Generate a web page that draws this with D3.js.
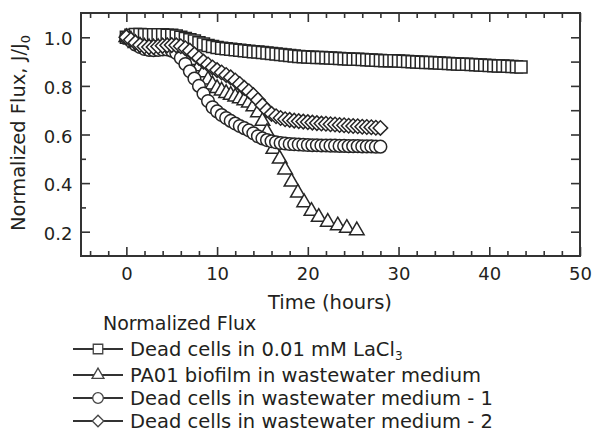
<!DOCTYPE html>
<html>
<head>
<meta charset="utf-8">
<script src="https://cdn.jsdelivr.net/npm/d3@7"></script>
<style>
  body { margin: 0; background: #fff; }
  svg { display: block; font-family: "DejaVu Sans", sans-serif; }
</style>
</head>
<body>
<svg id="chart" width="592" height="440"></svg>
<script>
// sample times (hours), every half hour
var halfHours = [0, 0.5, 1, 1.5, 2, 2.5, 3, 3.5, 4, 4.5, 5, 5.5, 6, 6.5, 7, 7.5, 8, 8.5, 9, 9.5,
  10, 10.5, 11, 11.5, 12, 12.5, 13, 13.5, 14, 14.5, 15, 15.5, 16, 16.5, 17, 17.5, 18, 18.5, 19, 19.5,
  20, 20.5, 21, 21.5, 22, 22.5, 23, 23.5, 24, 24.5, 25, 25.5, 26, 26.5, 27, 27.5, 28, 28.5, 29, 29.5,
  30, 30.5, 31, 31.5, 32, 32.5, 33, 33.5, 34, 34.5, 35, 35.5, 36, 36.5, 37, 37.5, 38, 38.5, 39, 39.5,
  40, 40.5, 41, 41.5, 42, 42.5, 43, 43.5];

// Dead cells in 0.01 mM LaCl3
var laclFlux = [1.000, 1.008, 1.012, 1.012, 1.010, 1.010, 1.010, 1.010, 1.010, 1.008,
  1.008, 1.005, 1.000, 0.995, 0.990, 0.985, 0.978, 0.972, 0.966, 0.962,
  0.958, 0.955, 0.953, 0.951, 0.949, 0.947, 0.945, 0.943, 0.941, 0.939,
  0.937, 0.935, 0.933, 0.931, 0.929, 0.927, 0.925, 0.923, 0.921, 0.920,
  0.919, 0.918, 0.917, 0.917, 0.916, 0.915, 0.914, 0.913, 0.912, 0.911,
  0.910, 0.910, 0.909, 0.908, 0.907, 0.906, 0.905, 0.904, 0.903, 0.903,
  0.902, 0.901, 0.900, 0.899, 0.898, 0.897, 0.896, 0.896, 0.895, 0.894,
  0.893, 0.892, 0.891, 0.890, 0.889, 0.889, 0.888, 0.887, 0.886, 0.885,
  0.884, 0.883, 0.882, 0.882, 0.881, 0.880, 0.879, 0.878];

// PA01 biofilm in wastewater medium
var biofilmTime = [0, 0.5, 1, 1.5, 2, 2.5, 3, 3.5, 4, 4.5, 5, 5.5, 6, 6.5, 7, 7.5, 8, 8.5, 9, 9.5,
  10, 10.5, 11, 11.5, 12, 12.5, 13, 13.5, 14, 14.5, 15, 15.5,
  16.2, 16.9, 17.5, 18.2, 18.9, 19.6, 20.4, 21.2, 22.2, 23.3, 24.3, 25.4];
var biofilmFlux = [1.000, 0.990, 0.975, 0.965, 0.960, 0.958, 0.957, 0.958, 0.960, 0.960,
  0.958, 0.955, 0.950, 0.940, 0.925, 0.905, 0.880, 0.855, 0.825, 0.805,
  0.790, 0.780, 0.770, 0.762, 0.755, 0.748, 0.740, 0.730, 0.715, 0.690,
  0.655, 0.610,
  0.540, 0.500, 0.455, 0.405, 0.360, 0.320, 0.285, 0.260, 0.240, 0.225, 0.215, 0.205];

// Dead cells in wastewater medium - 1
var waste1Flux = [1.000, 0.985, 0.970, 0.960, 0.952, 0.948, 0.947, 0.948, 0.950, 0.950,
  0.945, 0.935, 0.915, 0.890, 0.860, 0.830, 0.800, 0.768, 0.738, 0.712,
  0.695, 0.680, 0.668, 0.656, 0.645, 0.635, 0.626, 0.617, 0.605, 0.593,
  0.584, 0.577, 0.572, 0.568, 0.565, 0.563, 0.561, 0.560, 0.559, 0.558,
  0.557, 0.556, 0.556, 0.555, 0.555, 0.554, 0.554, 0.553, 0.553, 0.552,
  0.552, 0.552, 0.551, 0.551, 0.551, 0.550, 0.550];

// Dead cells in wastewater medium - 2
var waste2Flux = [1.000, 0.990, 0.978, 0.968, 0.962, 0.960, 0.960, 0.962, 0.965, 0.967,
  0.968, 0.967, 0.963, 0.955, 0.945, 0.930, 0.915, 0.900, 0.888, 0.876,
  0.865, 0.855, 0.845, 0.835, 0.822, 0.808, 0.792, 0.778, 0.762, 0.742,
  0.720, 0.700, 0.685, 0.675, 0.668, 0.663, 0.660, 0.657, 0.655, 0.653,
  0.651, 0.649, 0.647, 0.645, 0.644, 0.642, 0.641, 0.639, 0.638, 0.636,
  0.635, 0.634, 0.632, 0.631, 0.630, 0.628, 0.627];

var legendLabels = ["Dead cells in 0.01 mM LaCl", "PA01 biofilm in wastewater medium",
  "Dead cells in wastewater medium - 1", "Dead cells in wastewater medium - 2"];
var legendSubs = ["3", "", "", ""];

var xMajor = [0, 10, 20, 30, 40, 50];
var xMinor = [-4, -2, 2, 4, 6, 8, 12, 14, 16, 18, 22, 24, 26, 28, 32, 34, 36, 38, 42, 44, 46, 48];
var yMajor = [0.2, 0.4, 0.6, 0.8, 1.0];
var yMinor = [0.3, 0.5, 0.7, 0.9];
var yRight = [0.2, 0.3, 0.4, 0.5, 0.6, 0.7, 0.8, 0.9, 1.0];

var ink = "#262626";
var textInk = "#231f20";
var svg = d3.select("#chart");

var x = d3.scaleLinear().domain([-5, 50]).range([81, 580]);
var y = d3.scaleLinear().domain([0.1, 1.1]).range([256, 13]);

// marker shapes
var shapes = [
  { type: d3.symbolSquare, size: 144, rot: 0, lsize: 90 },
  { type: d3.symbolTriangle, size: 92, rot: 0, lsize: 62 },
  { type: d3.symbolCircle, size: 125, rot: 0, lsize: 88 },
  { type: d3.symbolSquare, size: 105, rot: 45, lsize: 66 }
];

function pairs(times, vals) {
  return vals.map(function (v, i) { return { t: times[i], v: v }; });
}

var series = [
  pairs(halfHours, laclFlux),
  pairs(biofilmTime, biofilmFlux),
  pairs(halfHours, waste1Flux),
  pairs(halfHours, waste2Flux)
];

// markers
series.forEach(function (data, k) {
  var s = shapes[k];
  svg.append("g")
    .selectAll("path")
    .data(data)
    .enter()
    .append("path")
    .attr("d", d3.symbol().type(s.type).size(s.size))
    .attr("transform", function (d) {
      return "translate(" + x(d.t) + "," + y(d.v) + ") rotate(" + s.rot + ")";
    })
    .attr("fill", "#fff")
    .attr("stroke", ink)
    .attr("stroke-width", 1.5);
});

// frame
svg.append("rect")
  .attr("x", x(-5)).attr("y", y(1.1))
  .attr("width", x(50) - x(-5)).attr("height", y(0.1) - y(1.1))
  .attr("fill", "none").attr("stroke", "#333").attr("stroke-width", 2);

function styleAxis(g) {
  g.select(".domain").remove();
  g.attr("color", "#333")
    .attr("font-size", 18)
    .attr("font-family", "'DejaVu Sans', sans-serif");
  g.selectAll("line").attr("stroke-width", 1.6);
  g.selectAll("text").attr("fill", textInk);
}

svg.append("g").attr("transform", "translate(0,256)")
  .call(d3.axisBottom(x).tickValues(xMajor).tickSize(-9).tickPadding(11).tickFormat(d3.format("d")))
  .call(styleAxis);
svg.append("g").attr("transform", "translate(0,256)")
  .call(d3.axisBottom(x).tickValues(xMinor).tickSize(-5).tickFormat(""))
  .call(styleAxis);
svg.append("g").attr("transform", "translate(0,13)")
  .call(d3.axisTop(x).tickValues(xMajor).tickSize(-9).tickFormat(""))
  .call(styleAxis);
svg.append("g").attr("transform", "translate(0,13)")
  .call(d3.axisTop(x).tickValues(xMinor).tickSize(-5).tickFormat(""))
  .call(styleAxis);

var leftAxis = svg.append("g").attr("transform", "translate(81,0)")
  .call(d3.axisLeft(y).tickValues(yMajor).tickSize(-9).tickPadding(8.5).tickFormat(d3.format(".1f")))
  .call(styleAxis);
leftAxis.selectAll("text").attr("dy", "0.42em");
svg.append("g").attr("transform", "translate(81,0)")
  .call(d3.axisLeft(y).tickValues(yMinor).tickSize(-5).tickFormat(""))
  .call(styleAxis);
svg.append("g").attr("transform", "translate(580,0)")
  .call(d3.axisRight(y).tickValues(yRight).tickSize(-9).tickFormat(""))
  .call(styleAxis);

// axis titles
var yTitle = svg.append("text")
  .attr("transform", "translate(25,133) rotate(-90)")
  .attr("text-anchor", "middle")
  .attr("font-size", 19.5)
  .attr("fill", textInk);
yTitle.append("tspan").text("Normalized Flux, J/J");
yTitle.append("tspan").text("0").attr("font-size", 13).attr("dy", 5);

svg.append("text")
  .attr("x", 330).attr("y", 309)
  .attr("text-anchor", "middle")
  .attr("font-size", 19.5)
  .attr("fill", textInk)
  .text("Time (hours)");

// legend
svg.append("text")
  .attr("x", 103).attr("y", 330)
  .attr("font-size", 19)
  .attr("fill", textInk)
  .text("Normalized Flux");

var rowBase = [356, 382, 405, 428];
var legend = svg.append("g")
  .selectAll("g")
  .data(legendLabels)
  .enter()
  .append("g")
  .attr("transform", function (d, i) { return "translate(0," + rowBase[i] + ")"; });

legend.append("line")
  .attr("x1", 73).attr("x2", 123)
  .attr("y1", -7).attr("y2", -7)
  .attr("stroke", "#333").attr("stroke-width", 2.2);

legend.append("path")
  .attr("d", function (d, i) { return d3.symbol().type(shapes[i].type).size(shapes[i].lsize)(); })
  .attr("transform", function (d, i) { return "translate(98,-7) rotate(" + shapes[i].rot + ")"; })
  .attr("fill", "#fff")
  .attr("stroke", "#444")
  .attr("stroke-width", 1.3);

var label = legend.append("text")
  .attr("x", 130)
  .attr("font-size", 19.5)
  .attr("fill", textInk);
label.append("tspan").text(function (d) { return d; });
label.append("tspan")
  .text(function (d, i) { return legendSubs[i]; })
  .attr("font-size", 12)
  .attr("dy", 4);
</script>
</body>
</html>
